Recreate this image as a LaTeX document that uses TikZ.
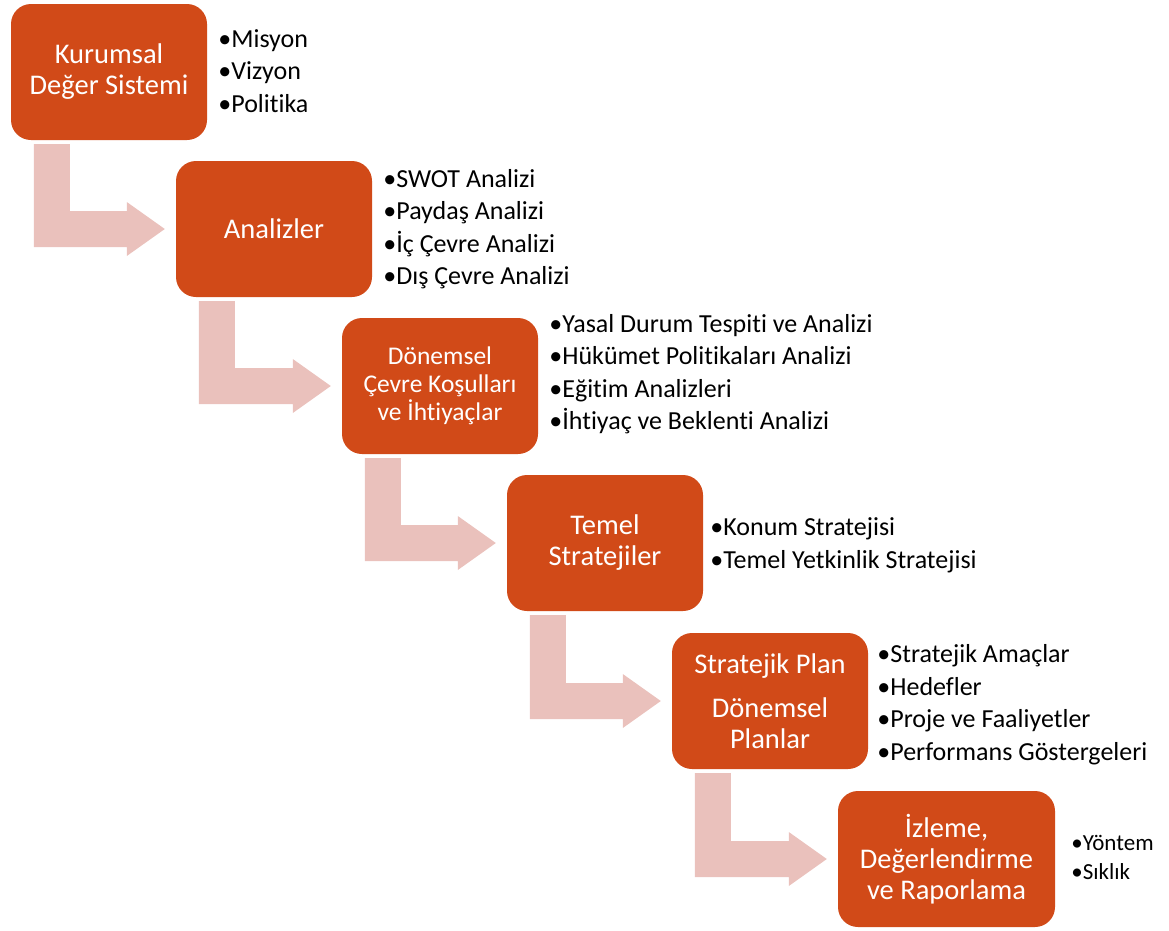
\documentclass[tikz,border=0pt]{standalone}
\usepackage{fontspec}
\setmainfont{Carlito}[Ligatures={NoCommon,NoContextual,NoRare},Contextuals={NoAlternate}]
\usepackage{tikz}
\usetikzlibrary{
    calc,          % Coordinate calculations
    positioning    % Relative positioning
}

\definecolor{kutuRenk}{RGB}{209,74,24}
\definecolor{okRenk}{RGB}{234,193,188}

\tikzset{
    kutu/.style={fill=kutuRenk, text=white, rounded corners=20pt,
        minimum width=196pt, minimum height=136pt, align=center, inner sep=0pt,
        font=\fontsize{28.5}{31}\selectfont},
    liste/.style={anchor=west, align=left, inner sep=0pt,
        font=\fontsize{26}{32.5}\selectfont},
}

% Bent arrow: down from box #1, then right into box #2
\newcommand{\bukumOk}[2]{%
    \fill[okRenk] ($(#1.south west)+(23,4)$) -- ($(#1.south west)+(59,4)$)
        |- ($(#2.west)+(-49,-18)$) -- ++(0,-9) -- ($(#2.west)+(-11,0)$)
        -- ($(#2.west)+(-49,27)$) -- ++(0,-9)
        -| ($(#1.south west)+(23,4)$) -- cycle;
}

\begin{document}
\begin{tikzpicture}[x=1pt,y=-1pt]
    \useasboundingbox (0,0) rectangle (1169,930);

    % Steps
    \node[kutu] (k1) at (109,72) {Kurumsal\\Değer Sistemi};
    \node[kutu] (k2) at (274,229) {Analizler};
    \node[kutu, font=\fontsize{25.5}{28}\selectfont] (k3) at (440,386) {Dönemsel\\Çevre Koşulları\\ve İhtiyaçlar};
    \node[kutu] (k4) at (605,543) {Temel\\Stratejiler};
    \node[kutu] (k5) at (770,701) {Stratejik Plan\\[13pt]Dönemsel\\Planlar};
    \node[kutu, minimum width=217pt] (k6) at (946.5,859) {İzleme,\\Değerlendirme\\ve Raporlama};

    % Bullet lists
    \node[liste] (l1) at ($(k1.east)+(11,-1)$) {•Misyon\\•Vizyon\\•Politika};
    \node[liste] (l2) at ($(k2.east)+(11,0)$) {•SWOT Analizi\\•Paydaş Analizi\\•İç Çevre Analizi\\•Dış Çevre Analizi};
    \node[liste] (l3) at ($(k3.east)+(11,-12)$) {•Yasal Durum Tespiti ve Analizi\\•Hükümet Politikaları Analizi\\•Eğitim Analizleri\\•İhtiyaç ve Beklenti Analizi};
    \node[liste] (l4) at ($(k4.east)+(7,2.5)$) {•Konum Stratejisi\\•Temel Yetkinlik Stratejisi};
    \node[liste] (l5) at ($(k5.east)+(9,3.5)$) {•Stratejik Amaçlar\\•Hedefler\\•Proje ve Faaliyetler\\•Performans Göstergeleri};
    \node[liste, font=\fontsize{23}{29}\selectfont] (l6) at ($(k6.east)+(16,-1.5)$) {•Yöntem\\•Sıklık};

    % Arrows
    \bukumOk{k1}{k2}
    \bukumOk{k2}{k3}
    \bukumOk{k3}{k4}
    \bukumOk{k4}{k5}
    \bukumOk{k5}{k6}
\end{tikzpicture}
\end{document}
